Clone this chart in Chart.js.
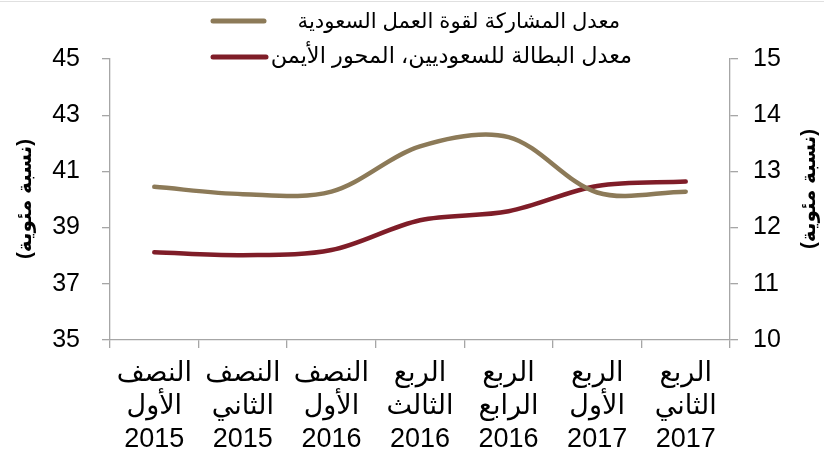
<!DOCTYPE html>
<html>
<head>
<meta charset="utf-8">
<script src="https://cdn.jsdelivr.net/npm/chart.js@4.4.1/dist/chart.umd.min.js"></script>
<style>
  html, body { margin: 0; padding: 0; background: #fff; }
  #wrap { width: 824px; height: 461px; position: relative; }
</style>
</head>
<body>
<div id="wrap"><canvas id="c" width="824" height="461"></canvas></div>
<script>
const categories = [
  ["النصف", "الأول", "2015"],
  ["النصف", "الثاني", "2015"],
  ["النصف", "الأول", "2016"],
  ["الربع", "الثالث", "2016"],
  ["الربع", "الرابع", "2016"],
  ["الربع", "الأول", "2017"],
  ["الربع", "الثاني", "2017"]
];
const participationRate = [40.45, 40.19, 40.28, 41.89, 42.22, 40.25, 40.28];
const unemploymentRate = [11.56, 11.51, 11.60, 12.13, 12.29, 12.74, 12.82];
const seriesNames = ["معدل المشاركة لقوة العمل السعودية", "معدل البطالة للسعوديين، المحور الأيمن"];
const axisTitle = "(نسبة مئوية)";
const leftTicks = [35, 37, 39, 41, 43, 45];
const rightTicks = [10, 11, 12, 13, 14, 15];

const FONT = "'Liberation Sans', Arial, 'DejaVu Sans', sans-serif";
const TAN = '#8C7A58';
const RED = '#7F1D28';
const AXIS = '#A6A6A6';

function fitText(ctx, text, rightX, y, targetW, baseSize) {
  ctx.font = baseSize + 'px ' + FONT;
  const w = ctx.measureText(text).width;
  let size = baseSize * targetW / w;
  size = Math.max(baseSize - 2, Math.min(baseSize + 2, size));
  ctx.font = size.toFixed(1) + 'px ' + FONT;
  ctx.fillText(text, rightX, y);
}

const overlay = {
  id: 'overlay',
  afterDraw(chart) {
    const ctx = chart.ctx;
    ctx.save();
    ctx.strokeStyle = '#E0E0E0';
    ctx.lineWidth = 1;
    ctx.beginPath(); ctx.moveTo(0, 1.5); ctx.lineTo(824, 1.5); ctx.stroke();
    ctx.lineCap = 'round';
    ctx.lineWidth = 5;
    ctx.strokeStyle = TAN;
    ctx.beginPath(); ctx.moveTo(213, 21); ctx.lineTo(264, 21); ctx.stroke();
    ctx.strokeStyle = RED;
    ctx.beginPath(); ctx.moveTo(213, 57); ctx.lineTo(266, 57); ctx.stroke();
    ctx.fillStyle = '#000';
    ctx.textBaseline = 'middle';
    ctx.textAlign = 'right';
    fitText(ctx, seriesNames[0], 620, 22, 323, 21);
    fitText(ctx, seriesNames[1], 632, 57, 362, 21);
    ctx.font = 'bold 20px ' + FONT;
    ctx.textAlign = 'center';
    ctx.save();
    ctx.translate(25, 199);
    ctx.rotate(-Math.PI / 2);
    ctx.fillText(axisTitle, 0, 0);
    ctx.restore();
    ctx.save();
    ctx.translate(809, 189);
    ctx.rotate(-Math.PI / 2);
    ctx.fillText(axisTitle, 0, 0);
    ctx.restore();
    ctx.restore();
  }
};

new Chart(document.getElementById('c'), {
  type: 'line',
  data: {
    labels: categories,
    datasets: [
      {
        label: seriesNames[0],
        data: participationRate,
        yAxisID: 'yL',
        borderColor: TAN,
        borderWidth: 4.5,
        pointRadius: 0,
        tension: 0.33,
        borderCapStyle: 'round',
        fill: false
      },
      {
        label: seriesNames[1],
        data: unemploymentRate,
        yAxisID: 'yR',
        borderColor: RED,
        borderWidth: 4.5,
        pointRadius: 0,
        tension: 0.33,
        borderCapStyle: 'round',
        fill: false
      }
    ]
  },
  options: {
    responsive: false,
    animation: false,
    layout: { padding: { top: 59, left: 0, right: 0, bottom: 0 } },
    plugins: { legend: { display: false }, tooltip: { enabled: false } },
    scales: {
      x: {
        offset: true,
        grid: { display: true, drawOnChartArea: false, drawTicks: true, tickLength: 8, color: AXIS, lineWidth: 1.3, offset: true },
        border: { display: true, color: AXIS, width: 1.3 },
        ticks: { color: '#000', font: { family: FONT, size: 27, lineHeight: 1.22 }, padding: 9, maxRotation: 0, autoSkip: false },
        afterFit(s) { s.height = 121; }
      },
      yL: {
        position: 'left',
        min: 35, max: 45,
        afterBuildTicks(s) { s.ticks = leftTicks.map(v => ({ value: v })); },
        grid: { display: true, drawOnChartArea: false, drawTicks: true, tickLength: 8, color: AXIS, lineWidth: 1.3 },
        border: { display: true, color: AXIS, width: 1.3 },
        ticks: { color: '#000', font: { family: FONT, size: 25 }, padding: 22 },
        afterFit(s) { s.width = 110; }
      },
      yR: {
        position: 'right',
        min: 10, max: 15,
        afterBuildTicks(s) { s.ticks = rightTicks.map(v => ({ value: v })); },
        grid: { display: true, drawOnChartArea: false, drawTicks: true, tickLength: 8, color: AXIS, lineWidth: 1.3 },
        border: { display: true, color: AXIS, width: 1.3 },
        ticks: { color: '#000', font: { family: FONT, size: 25 }, padding: 15 },
        afterFit(s) { s.width = 94; }
      }
    }
  },
  plugins: [overlay]
});
</script>
</body>
</html>
